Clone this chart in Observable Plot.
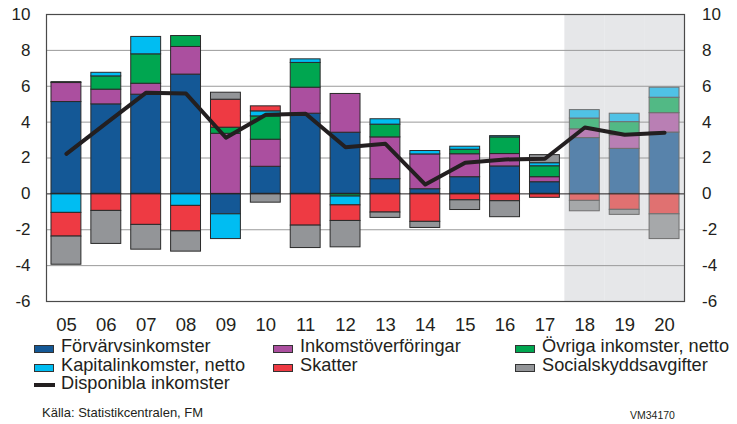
<!DOCTYPE html>
<html>
<head>
<meta charset="utf-8">
<script src="https://cdn.jsdelivr.net/npm/d3@7"></script>
<script src="https://cdn.jsdelivr.net/npm/@observablehq/plot@0.6"></script>
<style>
  body { margin: 0; background: #fff; font-family: "Liberation Sans", Arial, sans-serif; color: #231f20; }
  #wrap { position: relative; width: 737px; height: 424px; overflow: hidden; }
  #chart { position: absolute; left: 0; top: 0; }
  .leg { position: absolute; font-size: 18.2px; line-height: 18px; white-space: nowrap; }
  .sw { position: absolute; width: 20px; height: 8px; border: 1px solid #333; box-sizing: border-box; }
  .ln { position: absolute; width: 21px; height: 3.5px; background: #231f20; }
  .src { position: absolute; font-size: 13px; line-height: 14px; white-space: nowrap; }
</style>
</head>
<body>
<div id="wrap">
  <div id="chart"></div>
  <div id="legend"></div>
  <div class="src" style="left:42px; top:406px;">Källa: Statistikcentralen, FM</div>
  <div class="src" style="left:630px; top:408px; font-size:10.5px;">VM34170</div>
</div>
<script>
// ---- data ----
const years = ["05","06","07","08","09","10","11","12","13","14","15","16","17","18","19","20"];
const forecastYears = ["18","19","20"];
const seriesNames = ["Förvärvsinkomster","Inkomstöverföringar","Övriga inkomster, netto","Kapitalinkomster, netto","Skatter","Socialskyddsavgifter"];
const forvarvsinkomster   = [5.12, 4.99, 5.53, 6.65, -1.14, 1.51, 4.47, 3.41, 0.82, 0.26, 0.93, 1.53, 0.65, 3.11, 2.51, 3.42];
const inkomstoverforingar = [1.06, 0.82, 0.61, 1.54, 3.35, 1.51, 1.45, 2.16, 2.33, 1.94, 1.28, 0.69, 0.28, 0.49, 0.76, 1.08];
const ovrigaInkomster     = [0.05, 0.74, 1.64, 0.61, 0.34, 1.30, 1.38, -0.15, 0.71, 0, 0.25, 0.93, 0.61, 0.60, 0.73, 0.86];
const kapitalinkomster    = [-1.06, 0.20, 0.97, -0.67, -1.38, 0.28, 0.20, -0.49, 0.30, 0.19, 0.17, 0.07, 0.17, 0.47, 0.47, 0.56];
const skatter             = [-1.32, -0.95, -1.73, -1.42, 1.56, 0.28, -1.77, -0.87, -1.04, -1.56, -0.36, -0.41, -0.22, -0.39, -0.89, -1.14];
const socialskyddsavgifter= [-1.57, -1.84, -1.38, -1.13, 0.39, -0.49, -1.25, -1.47, -0.30, -0.34, -0.54, -0.89, 0.45, -0.58, -0.28, -1.38];
const disponiblaInkomster = [2.23, 3.94, 5.64, 5.59, 3.13, 4.41, 4.47, 2.60, 2.79, 0.52, 1.73, 1.92, 1.96, 3.70, 3.30, 3.41];
const yTicks = [-6, -4, -2, 0, 2, 4, 6, 8, 10];

const colorsActual   = ["#145896", "#ab4f9f", "#00a650", "#00bdf2", "#ee3a43", "#939598"];
const colorsForecast = ["#5883ab", "#b97fb4", "#52b985", "#50c2e6", "#e07171", "#a6a8aa"];

// ---- build table ----
const seriesValues = [forvarvsinkomster, inkomstoverforingar, ovrigaInkomster, kapitalinkomster, skatter, socialskyddsavgifter];
const rows = [];
years.forEach((yr, i) => {
  seriesNames.forEach((s, k) => {
    const v = seriesValues[k][i];
    if (v === 0) return;
    const fc = forecastYears.includes(yr);
    rows.push({year: yr, series: s, value: v, fill: fc ? colorsForecast[k] : colorsActual[k], stroke: fc ? "#6f6f6f" : "#2a2a2a"});
  });
});
const lineData = years.map((yr, i) => ({year: yr, value: disponiblaInkomster[i]}));

const chart = Plot.plot({
  width: 737,
  height: 340,
  marginLeft: 46,
  marginRight: 53,
  marginTop: 14,
  marginBottom: 39,
  style: {fontFamily: "'Liberation Sans', Arial, sans-serif", fontSize: "17px", color: "#231f20", background: "transparent"},
  x: {domain: years, paddingInner: 0.25, paddingOuter: 0.125, round: false, label: null},
  y: {domain: [-6, 10], label: null},
  color: {type: "identity"},
  marks: [
    Plot.barY(forecastYears, {x: d => d, y1: -6, y2: 10, fill: "#e6e7e9", insetLeft: -5, insetRight: -5}),
    Plot.ruleY(yTicks.filter(d => d !== 0 && d !== -6 && d !== 10), {stroke: "#9a9a9a", strokeWidth: 1}),
    Plot.barY(rows, Plot.stackY({x: "year", y: "value", z: "series", order: seriesNames, fill: "fill", stroke: "stroke", strokeWidth: 1})),
    Plot.ruleY([0], {stroke: "#231f20", strokeWidth: 1}),
    Plot.line(lineData, {x: "year", y: "value", stroke: "#231f20", strokeWidth: 4}),
    Plot.frame({stroke: "#4a4a4a", strokeWidth: 1.2}),
    Plot.axisY(yTicks, {anchor: "left", tickSize: 0, tickPadding: 16, tickFormat: d => String(d), label: null, fontSize: 17}),
    Plot.axisY(yTicks, {anchor: "right", tickSize: 0, tickPadding: 17.5, tickFormat: d => String(d), label: null, fontSize: 17}),
    Plot.axisX({tickSize: 0, tickPadding: 16, label: null, fontSize: 18.5})
  ]
});
document.getElementById("chart").appendChild(chart);

// ---- legend ----
const legendItems = [
  {label: seriesNames[0], color: colorsActual[0], x: 34, y: 337},
  {label: seriesNames[1], color: colorsActual[1], x: 273, y: 337},
  {label: seriesNames[2], color: colorsActual[2], x: 515, y: 337},
  {label: seriesNames[3], color: colorsActual[3], x: 34, y: 355.5},
  {label: seriesNames[4], color: colorsActual[4], x: 273, y: 355.5},
  {label: seriesNames[5], color: colorsActual[5], x: 515, y: 355.5},
  {label: "Disponibla inkomster", color: null, x: 34, y: 374}
];
const leg = document.getElementById("legend");
legendItems.forEach(it => {
  if (it.color) {
    const s = document.createElement("div");
    s.className = "sw";
    s.style.left = it.x + "px"; s.style.top = (it.y + 8) + "px"; s.style.background = it.color;
    leg.appendChild(s);
  } else {
    const l = document.createElement("div");
    l.className = "ln";
    l.style.left = it.x + "px"; l.style.top = (it.y + 9) + "px";
    leg.appendChild(l);
  }
  const t = document.createElement("div");
  t.className = "leg";
  t.textContent = it.label;
  t.style.left = (it.x + 27) + "px"; t.style.top = it.y + "px";
  leg.appendChild(t);
});
</script>
</body>
</html>
